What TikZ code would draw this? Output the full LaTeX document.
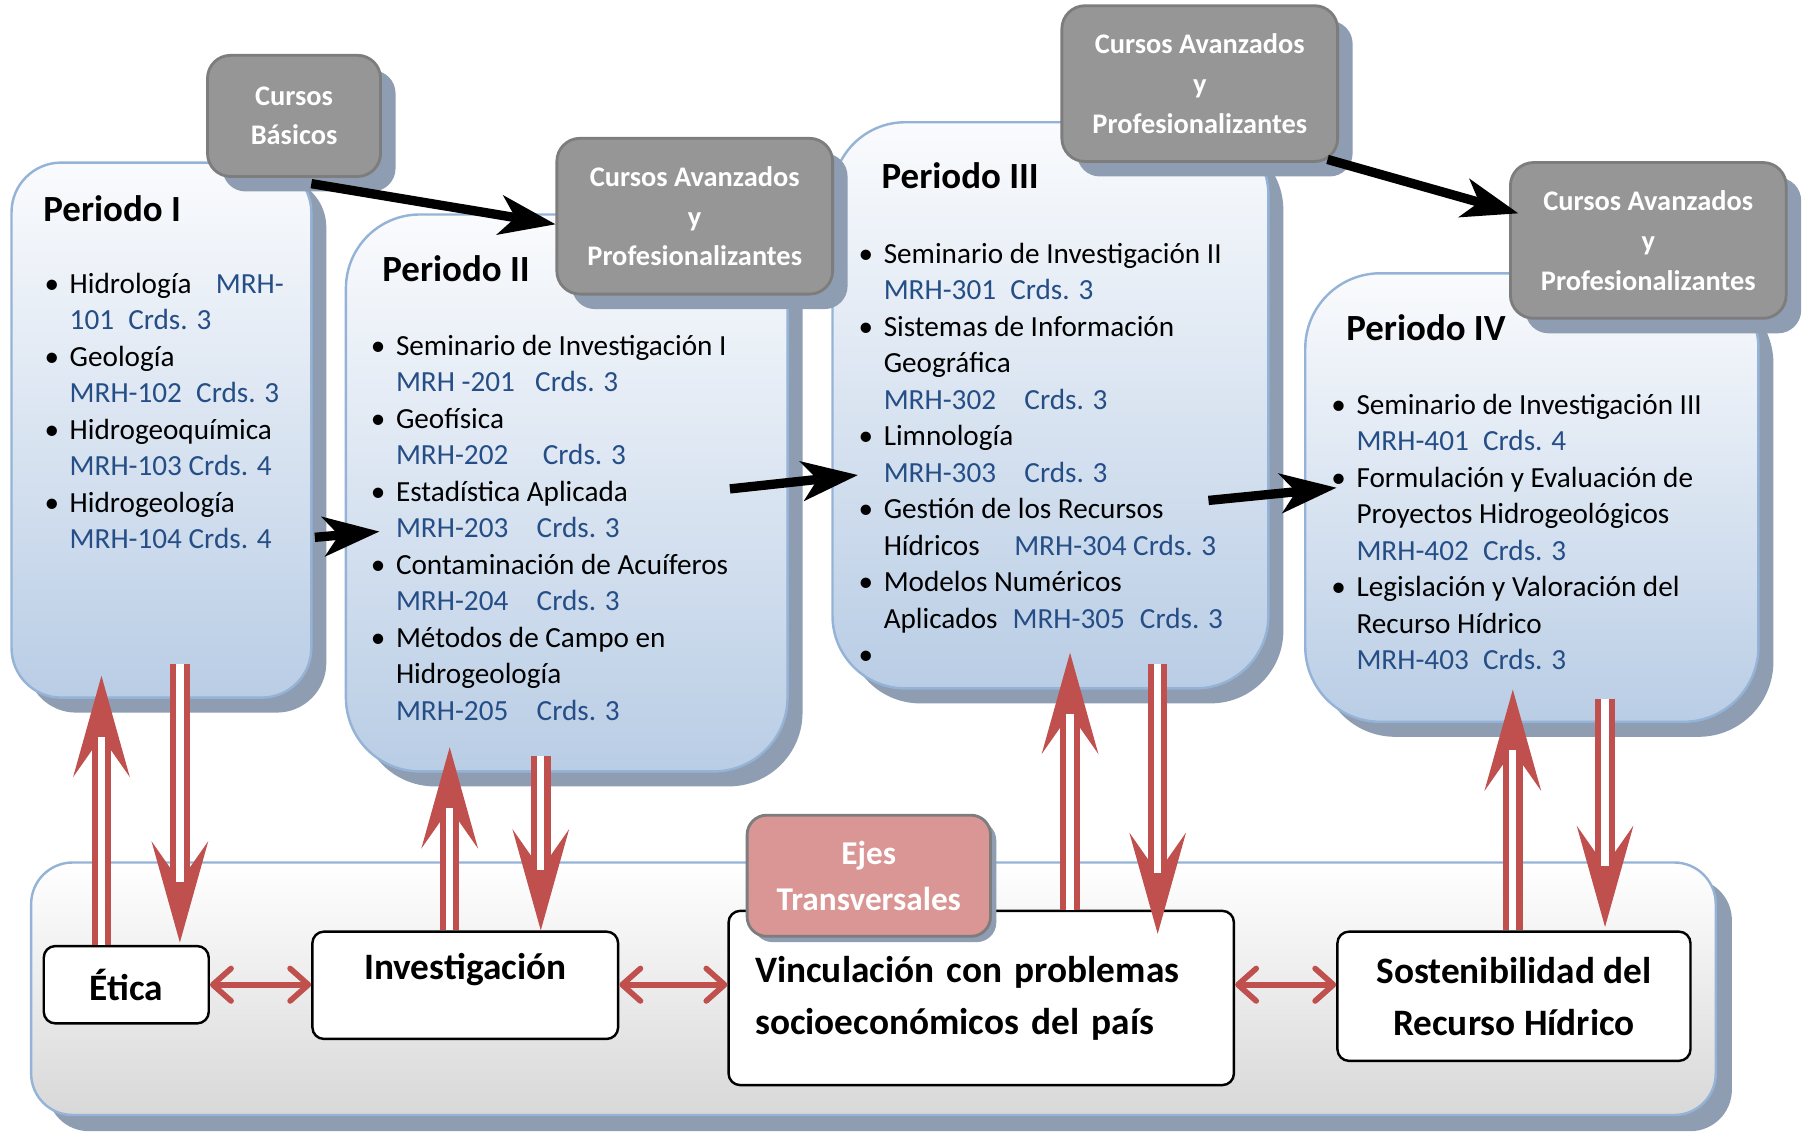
\documentclass[tikz,border=0pt]{standalone}
\usepackage{fontspec}
\setmainfont{Carlito}
\usepackage{tikz}
\usetikzlibrary{arrows.meta,calc,fit,shadows}

\definecolor{codeblue}{RGB}{37,78,135}
\definecolor{boxtop}{RGB}{250,251,253}
\definecolor{boxbot}{RGB}{185,205,229}
\definecolor{boxline}{RGB}{149,179,215}
\definecolor{shadowgray}{RGB}{142,157,177}
\definecolor{grayfill}{RGB}{150,150,150}
\definecolor{grayline}{RGB}{125,125,125}
\definecolor{axisred}{RGB}{192,80,77}
\definecolor{pinkfill}{RGB}{217,150,148}
\definecolor{panelbot}{RGB}{216,216,216}

\newcommand{\cod}[1]{\textcolor{codeblue}{#1}}
\newcommand{\pitem}{\rule{0pt}{6pt}\makebox[6.2pt][l]{\textbullet}}
\newcommand{\pind}{\hspace*{6.2pt}}

\begin{document}
\begin{tikzpicture}[
  x=0.01cm, y=-0.01cm,
  >={Stealth[length=14pt,width=10pt,inset=4pt,line width=0pt]},
  shadowed/.style={drop shadow={shadow xshift=#1, shadow yshift=-#1, fill=shadowgray, opacity=1}},
  pbox/.style={draw=boxline, line width=0.6pt, top color=boxtop, bottom color=boxbot, inner sep=0pt, rounded corners=#1, shadowed=0.13cm},
  graybox/.style={draw=grayline, line width=0.7pt, fill=grayfill, rounded corners=0.2cm, text=white, align=center, font=\bfseries\fontsize{7}{9.8}\selectfont, shadowed=0.13cm},
  pinkbox/.style={draw=grayline, line width=0.7pt, fill=pinkfill, rounded corners=0.17cm, text=white, align=center, font=\bfseries\fontsize{8.2}{11.4}\selectfont, shadowed=0.05cm},
  panel/.style={draw=boxline, line width=0.6pt, top color=white, bottom color=panelbot, inner sep=0pt, rounded corners=0.36cm, shadowed=0.14cm},
  inbox/.style={draw=black, line width=0.6pt, fill=white, rounded corners=0.1cm, align=center, font=\bfseries\fontsize{9.2}{12.8}\selectfont},
  ptitle/.style={anchor=base west, inner sep=0pt, font=\bfseries\fontsize{9.1}{11}\selectfont},
  plist/.style={anchor=north west, inner sep=0pt, align=left, font=\fontsize{7.2}{9}\selectfont},
  blkarrow/.style={->, line width=2.3pt},
  redarrow/.style={draw=axisred, line width=4.8pt, -{Stealth[length=25pt,width=14pt,inset=10pt,line width=0pt]}, postaction={draw=white, line width=1.8pt, -, shorten >=15pt}},
  twoway/.style={draw=axisred, line width=1.4pt, {Straight Barb[round,length=4.5pt,width=8pt]}-{Straight Barb[round,length=4.5pt,width=8pt]}}
  ]
\useasboundingbox (0,0) rectangle (1568,981);

\node [pbox=0.43cm, fit={(10,141) (270,605)}] (p1) {};
\node [graybox, minimum width=1.5cm, minimum height=1.05cm] (cb) at (255,100.5) {Cursos\\Básicos};
\node [pbox=0.64cm, fit={(300,186) (683,669)}] (p2) {};
\node [pbox=0.63cm, fit={(722,106) (1100,597)}] (p3) {};
\node [pbox=0.65cm, fit={(1132,237) (1525,626)}] (p4) {};
\node [graybox, minimum width=2.39cm, minimum height=1.35cm] (ca1) at (602.5,187.5) {Cursos Avanzados\\y\\Profesionalizantes};
\node [graybox, minimum width=2.39cm, minimum height=1.35cm] (ca2) at (1040.5,72.5) {Cursos Avanzados\\y\\Profesionalizantes};
\node [graybox, minimum width=2.39cm, minimum height=1.35cm] (ca3) at (1429.5,208.5) {Cursos Avanzados\\y\\Profesionalizantes};

\node [ptitle] (t1) at ($(p1.north west)+(28,52)$) {Periodo I};
\node [ptitle] (t2) at ($(p2.north west)+(32,59.5)$) {Periodo II};
\node [ptitle] (t3) at ($(p3.north west)+(43,58.5)$) {Periodo III};
\node [ptitle] (t4) at ($(p4.north west)+(36,59.5)$) {Periodo IV};

\node [plist] (l1) at ($(p1.north west)+(29,92.5)$) {%
\pitem Hidrología\hspace{6pt}\cod{MRH-}\\
\pind\cod{101\hspace{3.5pt}Crds. 3}\\
\pitem Geología\\
\pind\cod{MRH-102\hspace{3.5pt}Crds. 3}\\
\pitem Hidrogeoquímica\\
\pind\cod{MRH-103 Crds. 4}\\
\pitem Hidrogeología\\
\pind\cod{MRH-104 Crds. 4}};
\node [plist] (l2) at ($(p2.north west)+(22,101.5)$) {%
\pitem Seminario de Investigación I\\
\pind\cod{MRH -201\hspace{5pt}Crds. 3}\\
\pitem Geofísica\\
\pind\cod{MRH-202\hspace{8.5pt}Crds. 3}\\
\pitem Estadística Aplicada\\
\pind\cod{MRH-203\hspace{7pt}Crds. 3}\\
\pitem Contaminación de Acuíferos\\
\pind\cod{MRH-204\hspace{7pt}Crds. 3}\\
\pitem Métodos de Campo en\\
\pind Hidrogeología\\
\pind\cod{MRH-205\hspace{7pt}Crds. 3}};
\node [plist] (l3) at ($(p3.north west)+(23,101.5)$) {%
\pitem Seminario de Investigación II\\
\pind\cod{MRH-301\hspace{3.5pt}Crds. 3}\\
\pitem Sistemas de Información\\
\pind Geográfica\\
\pind\cod{MRH-302\hspace{7pt}Crds. 3}\\
\pitem Limnología\\
\pind\cod{MRH-303\hspace{7pt}Crds. 3}\\
\pitem Gestión de los Recursos\\
\pind Hídricos\hspace{8.5pt}\cod{MRH-304 Crds. 3}\\
\pitem Modelos Numéricos\\
\pind Aplicados\hspace{3.7pt}\cod{MRH-305\hspace{3.7pt}Crds. 3}\\
\pitem};
\node [plist] (l4) at ($(p4.north west)+(23,101.5)$) {%
\pitem Seminario de Investigación III\\
\pind\cod{MRH-401\hspace{3.5pt}Crds. 4}\\
\pitem Formulación y Evaluación de\\
\pind Proyectos Hidrogeológicos\\
\pind\cod{MRH-402\hspace{3.5pt}Crds. 3}\\
\pitem Legislación y Valoración del\\
\pind Recurso Hídrico\\
\pind\cod{MRH-403\hspace{3.5pt}Crds. 3}};

\draw [blkarrow] ($(cb.south)+(15,5)$) -- ($(ca1.west)+(0,7)$);
\draw [blkarrow] ($(p1.east)+(2,93)$) -- ($(p2.west)+(30,33.5)$);
\draw [blkarrow] ($(p2.east)+(-51,-3.5)$) -- ($(p3.west)+(23,60.5)$);
\draw [blkarrow] ($(p3.east)+(-53,82.5)$) -- ($(p4.west)+(28,-8.5)$);
\draw [blkarrow] ($(ca2.south east)+(-10,-3)$) -- ($(ca3.west)+(8,-23.5)$);

\node [panel, fit={(27,748) (1488,967)}] (axes) {};
\node [inbox, minimum width=1.43cm, minimum height=0.67cm] (etica) at (109.5,854) {Ética};
\node [inbox, minimum width=2.65cm, minimum height=0.93cm, text height=7pt, text depth=9.9pt] (inv) at (403.5,854.5) {Investigación};
\node [inbox, minimum width=4.38cm, minimum height=1.51cm, text width=3.92cm, inner xsep=0.23cm, align=left] (vinc) at (851,865.5) {\mbox{Vinculación con problemas}\\\mbox{socioeconómicos del país}};
\node [inbox, minimum width=3.06cm, minimum height=1.12cm] (sost) at (1313,864) {Sostenibilidad del\\Recurso Hídrico};
\node [pinkbox, minimum width=2.11cm, minimum height=1.05cm] (ejes) at (753.5,759.5) {Ejes\\Transversales};

\draw [redarrow] ($(etica.north)+(-21.5,0)$) -- ($(p1.south)+(-52,-20)$);
\draw [redarrow] ($(p1.south)+(16,-30)$) -- ($(etica.north)+(46.5,-2)$);
\draw [redarrow] ($(inv.north)+(-13.5,0)$) -- ($(p2.south)+(-101.5,-22)$);
\draw [redarrow] ($(p2.south)+(-22.5,-14)$) -- ($(inv.north)+(65.5,0)$);
\draw [redarrow] ($(vinc.north)+(77,0)$) -- ($(p3.south)+(17,-32)$);
\draw [redarrow] ($(p3.south)+(93,-22)$) -- ($(vinc.north)+(153,21)$);
\draw [redarrow] ($(sost.north)+(-1,0)$) -- ($(p4.south)+(-16.5,-29)$);
\draw [redarrow] ($(p4.south)+(63.5,-21)$) -- ($(sost.north)+(79,-3)$);

\draw [twoway] (etica.east) -- (inv.west |- etica.east);
\draw [twoway] (inv.east |- etica.east) -- (vinc.west |- etica.east);
\draw [twoway] (vinc.east |- etica.east) -- (sost.west |- etica.east);
\end{tikzpicture}
\end{document}
